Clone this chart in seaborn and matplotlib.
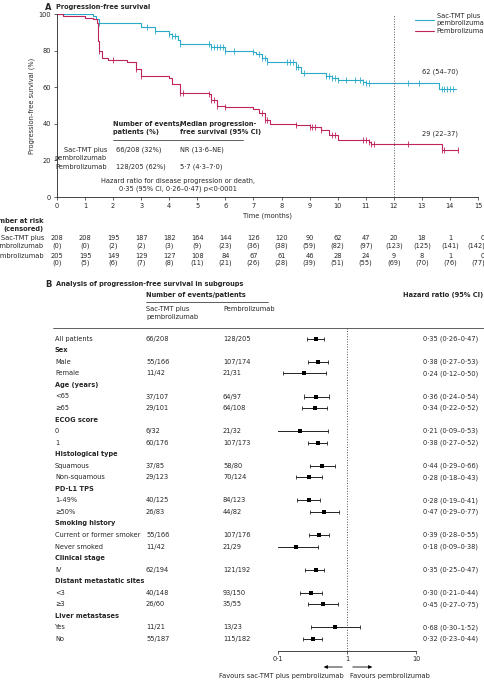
import numpy as np
import pandas as pd
import seaborn as sns
import matplotlib.pyplot as plt
from matplotlib.transforms import blended_transform_factory

BLUE = "#2aa9c9"
RED = "#c0245e"

# Kaplan-Meier step points (months, % PFS)
sac_t = [0, 1.3, 1.4, 1.5, 2.5, 3.0, 3.5, 4.0, 4.1, 4.3, 4.4, 5.5, 6.0, 7.0, 7.1, 7.3, 7.5, 8.3, 8.5, 8.7, 9.6, 9.8, 10.0, 10.9, 11.0, 13.6, 14.2]
sac_s = [100, 99, 97, 95, 95, 93, 90.5, 89, 88, 86, 83.5, 82, 80, 79.5, 78, 76, 74, 74, 71, 68, 66, 65, 64, 63, 62.5, 59, 59]
pem_t = [0, 0.2, 1.0, 1.3, 1.42, 1.45, 1.5, 1.6, 1.8, 2.5, 2.8, 3.0, 4.0, 4.1, 4.4, 5.4, 5.5, 5.7, 6.0, 7.0, 7.2, 7.4, 7.6, 8.5, 9.0, 9.4, 9.7, 10.0, 11.1, 11.2, 13.7, 14.3]
pem_s = [100, 99, 98, 97, 95, 85, 80, 76, 75, 74, 70, 66, 65, 62, 57, 56.5, 53, 50, 49, 48, 46, 42, 40, 39.5, 38.5, 36.5, 34, 31, 30, 29, 25.5, 25.5]
sac_cens = [1.5, 3.2, 3.5, 4.0, 4.1, 4.2, 4.4, 5.4, 5.5, 5.6, 5.7, 5.8, 5.9, 6.0, 6.3, 7.0, 7.2, 7.3, 7.4, 7.5, 8.2, 8.3, 8.4, 8.5, 8.6, 8.8, 9.6, 9.7, 9.8, 9.9, 10.0, 10.3, 10.6, 10.8, 10.9, 11.0, 11.1, 12.5, 12.9, 13.7, 13.8, 13.9, 14.0, 14.1]
pem_cens = [1.5, 2.0, 2.8, 3.0, 4.4, 4.5, 5.4, 5.5, 5.6, 5.7, 6.0, 7.3, 7.4, 7.5, 8.5, 9.0, 9.1, 9.2, 9.4, 9.8, 9.9, 10.9, 11.0, 11.1, 11.2, 11.3, 12.5, 13.7, 13.8, 14.3]

months = list(range(16))
risk_sac = [208, 208, 195, 187, 182, 164, 144, 126, 120, 90, 62, 47, 20, 18, 1, 0]
cens_sac = [0, 0, 2, 2, 3, 9, 23, 36, 38, 59, 82, 97, 123, 125, 141, 142]
risk_pem = [205, 195, 149, 129, 127, 108, 84, 67, 61, 46, 28, 24, 9, 8, 1, 0]
cens_pem = [0, 5, 6, 7, 8, 11, 21, 26, 28, 39, 51, 55, 69, 70, 76, 77]

# Subgroup forest plot
rows = ["All patients", "Sex", "Male", "Female", "Age (years)", "<65", "≥65", "ECOG score", "0", "1",
        "Histological type", "Squamous", "Non-squamous", "PD-L1 TPS", "1–49%", "≥50%",
        "Smoking history", "Current or former smoker", "Never smoked", "Clinical stage", "IV",
        "Distant metastatic sites", "<3", "≥3", "Liver metastases", "Yes", "No"]
headers = ["Sex", "Age (years)", "ECOG score", "Histological type", "PD-L1 TPS", "Smoking history",
           "Clinical stage", "Distant metastatic sites", "Liver metastases"]
ev_sac = ["66/208", "55/166", "11/42", "37/107", "29/101", "6/32", "60/176", "37/85", "29/123",
          "40/125", "26/83", "55/166", "11/42", "62/194", "40/148", "26/60", "11/21", "55/187"]
ev_pem = ["128/205", "107/174", "21/31", "64/97", "64/108", "21/32", "107/173", "58/80", "70/124",
          "84/123", "44/82", "107/176", "21/29", "121/192", "93/150", "35/55", "13/23", "115/182"]
hr = [0.35, 0.38, 0.24, 0.36, 0.34, 0.21, 0.38, 0.44, 0.28, 0.28, 0.47, 0.39, 0.18, 0.35, 0.30, 0.45, 0.68, 0.32]
lo = [0.26, 0.27, 0.12, 0.24, 0.22, 0.09, 0.27, 0.29, 0.18, 0.19, 0.29, 0.28, 0.09, 0.25, 0.21, 0.27, 0.30, 0.23]
hi = [0.47, 0.53, 0.50, 0.54, 0.52, 0.53, 0.52, 0.66, 0.43, 0.41, 0.77, 0.55, 0.38, 0.47, 0.44, 0.75, 1.52, 0.44]

sns.set_style("ticks")
plt.rcParams["font.family"] = ["Liberation Sans Narrow", "DejaVu Sans"]
FS = 4.8
fig = plt.figure(figsize=(4.85, 6.8), dpi=100)


def fx(px):
    return px / 485


def fy(px):
    return 1 - px / 680


# ---------- Panel A ----------
ax = fig.add_axes([fx(57), fy(197), fx(421), 183 / 680])
for t, s, c, lab in [(sac_t, sac_s, BLUE, "Sac-TMT plus\npembrolizumab"), (pem_t, pem_s, RED, "Pembrolizumab")]:
    df = pd.DataFrame({"t": t, "s": s})
    sns.lineplot(data=df, x="t", y="s", ax=ax, color=c, lw=0.8, drawstyle="steps-post", label=lab, sort=False)
for t, s, cens, c in [(sac_t, sac_s, sac_cens, BLUE), (pem_t, pem_s, pem_cens, RED)]:
    idx = np.searchsorted(t, cens, side="right") - 1
    cdf = pd.DataFrame({"t": cens, "s": np.array(s)[idx]})
    sns.scatterplot(data=cdf, x="t", y="s", ax=ax, marker="|", color=c, s=14, linewidth=0.6, legend=False)
ax.axvline(12, color="#555", ls=":", lw=0.7)
ax.set_xlim(0, 15)
ax.set_ylim(0, 100)
ax.set_xticks(months)
ax.set_yticks([0, 20, 40, 60, 80, 100])
ax.tick_params(labelsize=FS, length=2.5, width=0.5, pad=2)
ax.set_xlabel("Time (months)", fontsize=FS, labelpad=2)
ax.set_ylabel("Progression-free survival (%)", fontsize=FS, labelpad=2)
for sp in ["top", "right"]:
    ax.spines[sp].set_visible(False)
for sp in ["left", "bottom"]:
    ax.spines[sp].set_linewidth(0.6)
ax.legend(fontsize=FS, frameon=False, loc="upper left", bbox_to_anchor=(0.845, 1.02), handlelength=2.8,
          handletextpad=0.4, borderaxespad=0, labelspacing=0.3)
fig.text(fx(45), fy(7), "A", fontsize=6, weight="bold", va="center")
fig.text(fx(56), fy(7), "Progression-free survival", fontsize=FS, weight="bold", va="center")
ax.text(13.0, 62.5 + 4, "62 (54–70)", fontsize=FS, ha="left", va="bottom")
ax.text(13.0, 29 + 4, "29 (22–37)", fontsize=FS, ha="left", va="bottom")

fig.text(fx(113), fy(128), "Number of events/\npatients (%)", fontsize=FS, weight="bold", va="center", linespacing=1.3)
fig.text(fx(180), fy(128), "Median progression-\nfree survival (95% CI)", fontsize=FS, weight="bold", va="center", linespacing=1.3)
fig.add_artist(plt.Line2D([fx(113), fx(243)], [fy(140), fy(140)], color="#444", lw=0.6))
fig.text(fx(107), fy(154), "Sac-TMT plus\npembrolizumab", fontsize=FS, ha="right", va="center", linespacing=1.3)
fig.text(fx(107), fy(167), "Pembrolizumab", fontsize=FS, ha="right", va="center")
fig.text(fx(116), fy(150), "66/208 (32%)", fontsize=FS, va="center")
fig.text(fx(116), fy(167), "128/205 (62%)", fontsize=FS, va="center")
fig.text(fx(180), fy(150), "NR (13·6–NE)", fontsize=FS, va="center")
fig.text(fx(180), fy(167), "5·7 (4·3–7·0)", fontsize=FS, va="center")
fig.text(fx(178), fy(185), "Hazard ratio for disease progression or death,\n0·35 (95% CI, 0·26–0·47) p<0·0001",
         fontsize=FS, ha="center", va="center", linespacing=1.3)

# number at risk
tr = blended_transform_factory(ax.transData, fig.transFigure)
fig.text(fx(44), fy(225), "Number at risk\n(censored)", fontsize=FS, weight="bold", ha="right", va="center", linespacing=1.3)
fig.text(fx(44), fy(238), "Sac-TMT plus", fontsize=FS, ha="right", va="center")
fig.text(fx(44), fy(246), "pembrolizumab", fontsize=FS, ha="right", va="center")
fig.text(fx(44), fy(256), "Pembrolizumab", fontsize=FS, ha="right", va="center")
for m, a, b, c, d in zip(months, risk_sac, cens_sac, risk_pem, cens_pem):
    ha = "right" if m == 15 else "center"
    xm = m + 0.25 if m == 15 else m
    ax.text(xm, fy(238), str(a), transform=tr, fontsize=FS, ha=ha, va="center")
    ax.text(xm, fy(246), f"({b})", transform=tr, fontsize=FS, ha=ha, va="center")
    ax.text(xm, fy(256), str(c), transform=tr, fontsize=FS, ha=ha, va="center")
    ax.text(xm, fy(263), f"({d})", transform=tr, fontsize=FS, ha=ha, va="center")

# ---------- Panel B ----------
fx_ax = fig.add_axes([fx(278), fy(650.5), fx(138), (650.5 - 333) / 680])
data_rows = [i for i, r in enumerate(rows) if r not in headers]
fdf = pd.DataFrame({"row": data_rows, "hr": hr, "lo": lo, "hi": hi})
fx_ax.hlines(fdf["row"], fdf["lo"], fdf["hi"], color="black", lw=0.6)
fx_ax.vlines(fdf["lo"], fdf["row"] - 0.18, fdf["row"] + 0.18, color="black", lw=0.5)
fx_ax.vlines(fdf["hi"], fdf["row"] - 0.18, fdf["row"] + 0.18, color="black", lw=0.5)
sns.scatterplot(data=fdf, x="hr", y="row", ax=fx_ax, marker="s", color="black", s=9, linewidth=0, zorder=3)
fx_ax.set_xscale("log")
fx_ax.set_xlim(0.1, 10)
fx_ax.set_ylim(27, -0.5)
fx_ax.axvline(1, color="#555", ls=":", lw=0.7, ymin=0, ymax=1.02, clip_on=False)
fx_ax.set_xticks([0.1, 1, 10])
fx_ax.set_xticklabels(["0·1", "1", "10"])
fx_ax.minorticks_off()
fx_ax.set_yticks([])
fx_ax.set_xlabel("")
fx_ax.set_ylabel("")
fx_ax.tick_params(labelsize=FS, length=2.5, width=0.5, pad=1.5)
for sp in ["top", "right", "left"]:
    fx_ax.spines[sp].set_visible(False)
fx_ax.spines["bottom"].set_linewidth(0.6)

trb = blended_transform_factory(fig.transFigure, fx_ax.transData)
k = 0
for i, r in enumerate(rows):
    if r in headers:
        fx_ax.text(fx(55), i, r, transform=trb, fontsize=FS, weight="bold", va="center")
        continue
    fx_ax.text(fx(55), i, r, transform=trb, fontsize=FS, va="center")
    fx_ax.text(fx(146), i, ev_sac[k], transform=trb, fontsize=FS, va="center")
    fx_ax.text(fx(223), i, ev_pem[k], transform=trb, fontsize=FS, va="center")
    hr_txt = f"{hr[k]:.2f} ({lo[k]:.2f}–{hi[k]:.2f})".replace(".", "·")
    fx_ax.text(fx(423), i, hr_txt, transform=trb, fontsize=FS, va="center")
    k += 1

fig.text(fx(45), fy(284), "B", fontsize=6, weight="bold", va="center")
fig.text(fx(56), fy(284), "Analysis of progression-free survival in subgroups", fontsize=FS, weight="bold", va="center")
fig.text(fx(146), fy(295), "Number of events/patients", fontsize=FS, weight="bold", va="center")
fig.text(fx(483), fy(295), "Hazard ratio (95% CI)", fontsize=FS, weight="bold", va="center", ha="right")
fig.add_artist(plt.Line2D([fx(146), fx(268)], [fy(302), fy(302)], color="#444", lw=0.6))
fig.text(fx(146), fy(313), "Sac-TMT plus\npembrolizumab", fontsize=FS, va="center", linespacing=1.3)
fig.text(fx(223), fy(309), "Pembrolizumab", fontsize=FS, va="center")
fig.add_artist(plt.Line2D([fx(53), fx(485)], [fy(328), fy(328)], color="#444", lw=0.6))

fig.add_artist(plt.Annotation("", xy=(fx(321), fy(667)), xytext=(fx(345), fy(667)), xycoords="figure fraction",
                              arrowprops=dict(arrowstyle="-|>", color="black", lw=0.6, mutation_scale=5)))
fig.add_artist(plt.Annotation("", xy=(fx(375), fy(667)), xytext=(fx(350), fy(667)), xycoords="figure fraction",
                              arrowprops=dict(arrowstyle="-|>", color="black", lw=0.6, mutation_scale=5)))
fig.text(fx(344), fy(676), "Favours sac-TMT plus pembrolizumab", fontsize=FS, ha="right", va="center")
fig.text(fx(350), fy(676), "Favours pembrolizumab", fontsize=FS, ha="left", va="center")

fig.savefig("out.png", dpi=100)
